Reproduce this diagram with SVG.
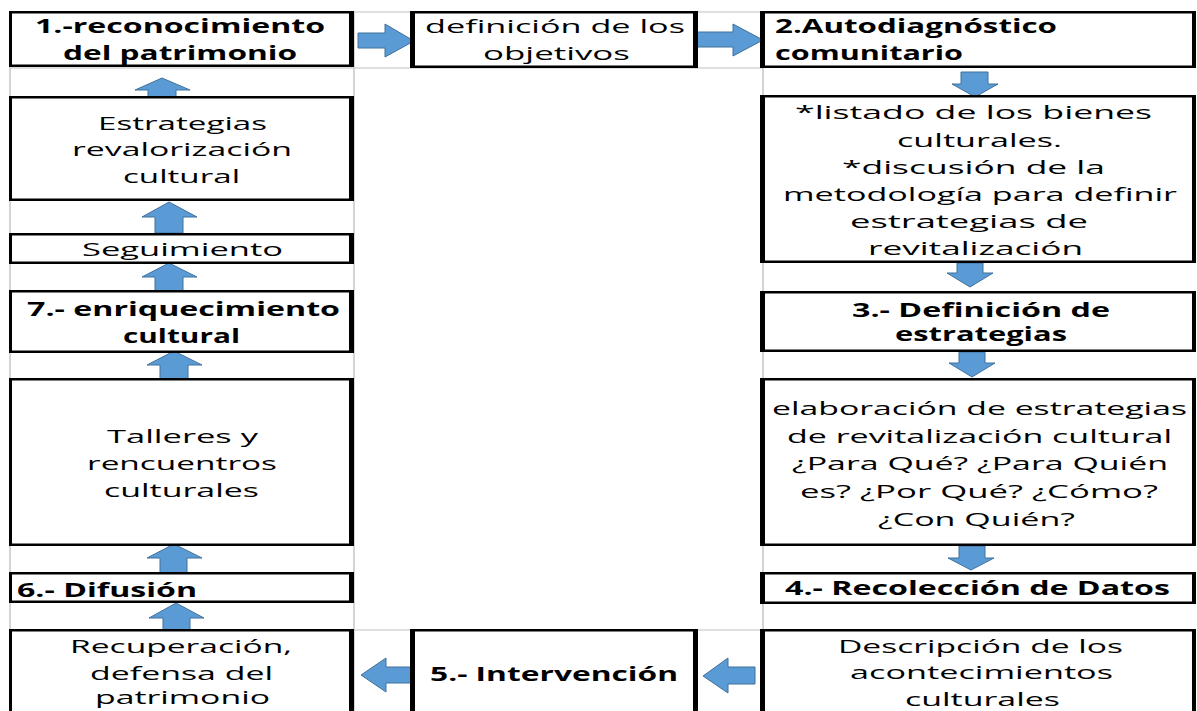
<svg xmlns="http://www.w3.org/2000/svg" width="1197" height="711" viewBox="0 0 1197 711">
<style>
.grid{stroke:#d4d4d4;stroke-width:2;fill:none}
.bo{fill:#000}
.bi{fill:#fff}
.t{font-family:"Open Sans","Liberation Sans",sans-serif;font-size:19px;fill:#000}
.b{font-weight:bold}
.ar{fill:#5b9bd5;stroke:#41719c;stroke-width:1}
</style>
<rect width="1197" height="711" fill="#fff"/>
<g id="grid">
<line class="grid" x1="10" y1="67" x2="10" y2="711"/>
<line class="grid" x1="354" y1="12" x2="354" y2="711"/>
<line class="grid" x1="763" y1="12" x2="763" y2="711"/>
<line class="grid" x1="354" y1="12" x2="763" y2="12" style="stroke-width:1.5"/>
<line class="grid" x1="10" y1="68" x2="763" y2="68" style="stroke-width:1.5"/>
<line class="grid" x1="354" y1="630" x2="763" y2="630" style="stroke-width:1.5"/>
</g>
<g id="connectors">
<path class="ar" d="M358,33 H385 V24 L414,41 L385,57 V48 H358 Z"/>
<path class="ar" d="M697,32 H733 V24 L763,40 L733,56 V47 H697 Z"/>
<path class="ar" d="M961,72 H988 V84 H998 L975,97 L952,84 H961 Z"/>
<path class="ar" d="M957,263 H983 V273 H993 L970,287 L947,273 H957 Z"/>
<path class="ar" d="M959,352 H985 V363 H995 L972,377 L949,363 H959 Z"/>
<path class="ar" d="M959,546 H985 V558 H994 L971,570 L948,558 H959 Z"/>
<path class="ar" d="M148,97 V90 H135 L162,78 L190,90 H176 V97 Z"/>
<path class="ar" d="M155,233 V217 H142 L169,202 L197,217 H183 V233 Z"/>
<path class="ar" d="M155,291 V277 H142 L169,263 L197,277 H183 V291 Z"/>
<path class="ar" d="M160,379 V365 H147 L174,351 L202,365 H188 V379 Z"/>
<path class="ar" d="M160,573 V558 H147 L174,544 L202,558 H187 V573 Z"/>
<path class="ar" d="M163,630 V618 H149 L176,603 L204,618 H190 V630 Z"/>
<path class="ar" d="M361,675 L386,658 V667 H412 V683 H386 V692 Z"/>
<path class="ar" d="M703,676 L728,658 V667 H755 V684 H728 V693 Z"/>
</g>
<g id="n1">
<rect class="bo" x="9" y="11" width="345" height="56"/><rect class="bi" x="12" y="13.5" width="337" height="51"/>
<text class="t b" x="35" y="33" textLength="290" lengthAdjust="spacingAndGlyphs">1.-reconocimiento</text>
<text class="t b" x="63" y="60" textLength="234" lengthAdjust="spacingAndGlyphs">del patrimonio</text>
</g>
<g id="n-objetivos">
<rect class="bo" x="410" y="11" width="288" height="57"/><rect class="bi" x="415" y="13.5" width="278" height="52"/>
<text class="t" x="425" y="33" textLength="260" lengthAdjust="spacingAndGlyphs">definición de los</text>
<text class="t" x="483" y="60" textLength="147" lengthAdjust="spacingAndGlyphs">objetivos</text>
</g>
<g id="n2">
<rect class="bo" x="760" y="11" width="436" height="57"/><rect class="bi" x="765" y="13.5" width="427" height="52"/>
<text class="t b" x="775" y="33" textLength="282" lengthAdjust="spacingAndGlyphs">2.Autodiagnóstico</text>
<text class="t b" x="775" y="60" textLength="188" lengthAdjust="spacingAndGlyphs">comunitario</text>
</g>
<g id="n-listado">
<rect class="bo" x="760" y="95" width="436" height="168"/><rect class="bi" x="765" y="97.5" width="427" height="163"/>
<text class="t" x="795" y="119" textLength="357" lengthAdjust="spacingAndGlyphs">*listado de los bienes</text>
<text class="t" x="897" y="147" textLength="165" lengthAdjust="spacingAndGlyphs">culturales.</text>
<text class="t" x="842" y="174" textLength="263" lengthAdjust="spacingAndGlyphs">*discusión de la</text>
<text class="t" x="783" y="201" textLength="394" lengthAdjust="spacingAndGlyphs">metodología para definir</text>
<text class="t" x="850" y="228" textLength="238" lengthAdjust="spacingAndGlyphs">estrategias de</text>
<text class="t" x="868" y="255" textLength="215" lengthAdjust="spacingAndGlyphs">revitalización</text>
</g>
<g id="n3">
<rect class="bo" x="760" y="291" width="436" height="61"/><rect class="bi" x="765" y="293.5" width="427" height="56"/>
<text class="t b" x="852" y="317" textLength="258" lengthAdjust="spacingAndGlyphs">3.- Definición de</text>
<text class="t b" x="895" y="341" textLength="172" lengthAdjust="spacingAndGlyphs">estrategias</text>
</g>
<g id="n-elaboracion">
<rect class="bo" x="760" y="378" width="436" height="168"/><rect class="bi" x="765" y="380.5" width="427" height="163"/>
<text class="t" x="772" y="415" textLength="415" lengthAdjust="spacingAndGlyphs">elaboración de estrategias</text>
<text class="t" x="787" y="443" textLength="385" lengthAdjust="spacingAndGlyphs">de revitalización cultural</text>
<text class="t" x="792" y="470" textLength="376" lengthAdjust="spacingAndGlyphs">¿Para Qué? ¿Para Quién</text>
<text class="t" x="800" y="498" textLength="358" lengthAdjust="spacingAndGlyphs">es? ¿Por Qué? ¿Cómo?</text>
<text class="t" x="878" y="526" textLength="197" lengthAdjust="spacingAndGlyphs">¿Con Quién?</text>
</g>
<g id="n4">
<rect class="bo" x="760" y="572" width="436" height="32"/><rect class="bi" x="765" y="574.5" width="427" height="27"/>
<text class="t b" x="785" y="595" textLength="385" lengthAdjust="spacingAndGlyphs">4.- Recolección de Datos</text>
</g>
<g id="n-descripcion">
<rect class="bo" x="760" y="629" width="436" height="90"/><rect class="bi" x="765" y="631.5" width="427" height="90"/>
<text class="t" x="838" y="653" textLength="285" lengthAdjust="spacingAndGlyphs">Descripción de los</text>
<text class="t" x="850" y="679" textLength="263" lengthAdjust="spacingAndGlyphs">acontecimientos</text>
<text class="t" x="905" y="706" textLength="155" lengthAdjust="spacingAndGlyphs">culturales</text>
</g>
<g id="n5">
<rect class="bo" x="410" y="629" width="288" height="90"/><rect class="bi" x="415" y="631.5" width="278" height="90"/>
<text class="t b" x="430" y="681" textLength="248" lengthAdjust="spacingAndGlyphs">5.- Intervención</text>
</g>
<g id="n-recuperacion">
<rect class="bo" x="9" y="629" width="345" height="90"/><rect class="bi" x="12" y="631.5" width="337" height="90"/>
<text class="t" x="70" y="653" textLength="222" lengthAdjust="spacingAndGlyphs">Recuperación,</text>
<text class="t" x="90" y="680" textLength="183" lengthAdjust="spacingAndGlyphs">defensa del</text>
<text class="t" x="95" y="704" textLength="175" lengthAdjust="spacingAndGlyphs">patrimonio</text>
</g>
<g id="n6">
<rect class="bo" x="9" y="572" width="345" height="31"/><rect class="bi" x="12" y="574.5" width="337" height="26"/>
<text class="t b" x="17" y="597" textLength="180" lengthAdjust="spacingAndGlyphs">6.- Difusión</text>
</g>
<g id="n-talleres">
<rect class="bo" x="9" y="378" width="345" height="168"/><rect class="bi" x="12" y="380.5" width="337" height="163"/>
<text class="t" x="107" y="443" textLength="151" lengthAdjust="spacingAndGlyphs">Talleres y</text>
<text class="t" x="87" y="470" textLength="190" lengthAdjust="spacingAndGlyphs">rencuentros</text>
<text class="t" x="104" y="497" textLength="155" lengthAdjust="spacingAndGlyphs">culturales</text>
</g>
<g id="n7">
<rect class="bo" x="9" y="290" width="345" height="63"/><rect class="bi" x="12" y="292.5" width="337" height="58"/>
<text class="t b" x="27" y="316" textLength="313" lengthAdjust="spacingAndGlyphs">7.- enriquecimiento</text>
<text class="t b" x="123" y="343" textLength="117" lengthAdjust="spacingAndGlyphs">cultural</text>
</g>
<g id="n-seguimiento">
<rect class="bo" x="9" y="233" width="345" height="31"/><rect class="bi" x="12" y="235.5" width="337" height="26"/>
<text class="t" x="82" y="256" textLength="201" lengthAdjust="spacingAndGlyphs">Seguimiento</text>
</g>
<g id="n-estrategias">
<rect class="bo" x="9" y="96" width="345" height="105"/><rect class="bi" x="12" y="98.5" width="337" height="100"/>
<text class="t" x="98" y="130" textLength="169" lengthAdjust="spacingAndGlyphs">Estrategias</text>
<text class="t" x="72" y="156" textLength="220" lengthAdjust="spacingAndGlyphs">revalorización</text>
<text class="t" x="123" y="183" textLength="117" lengthAdjust="spacingAndGlyphs">cultural</text>
</g>
</svg>
